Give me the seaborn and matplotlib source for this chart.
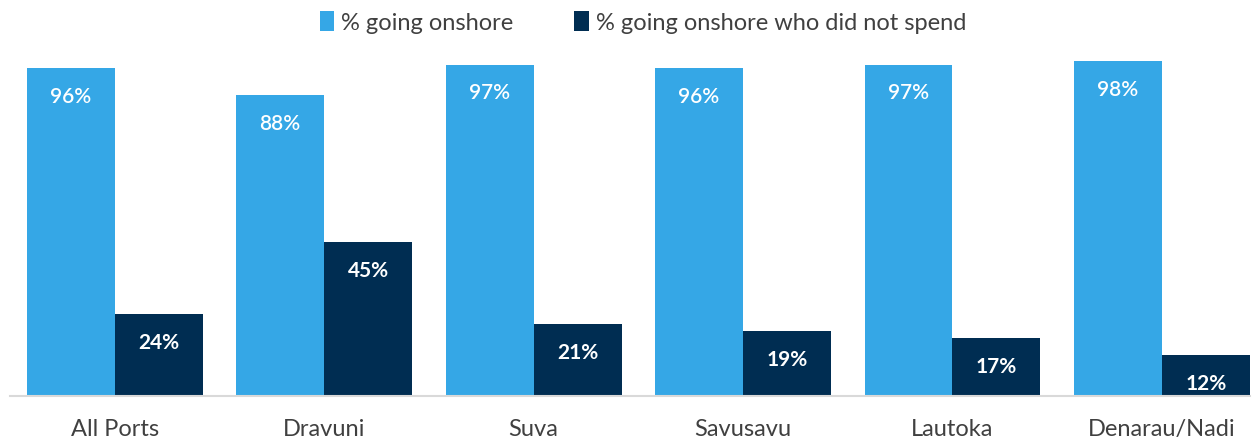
import numpy as np
import pandas as pd
import matplotlib
matplotlib.use('Agg')
import matplotlib.pyplot as plt
import seaborn as sns

ports = ['All Ports', 'Dravuni', 'Suva', 'Savusavu', 'Lautoka', 'Denarau/Nadi']
onshore = [96, 88, 97, 96, 97, 98]
no_spend = [24, 45, 21, 19, 17, 12]
series = ['% going onshore', '% going onshore who did not spend']
colors = ['#35A7E6', '#002D52']

df = pd.DataFrame({
    'port': ports * 2,
    'value': onshore + no_spend,
    'series': [series[0]] * len(ports) + [series[1]] * len(ports),
})

sns.set_style('white')
plt.rcParams['font.family'] = ['Lato', 'DejaVu Sans']

fig = plt.figure(figsize=(12.53, 4.39), dpi=100)
ax = fig.add_axes([0.008, 0.0957, 0.9895, 0.778])

sns.barplot(data=df, x='port', y='value', hue='series', palette=colors,
            width=0.84, gap=0, saturation=1, dodge=True, linewidth=0,
            ax=ax, legend=True)

# value labels inside the bars
weights = ['semibold', 'bold']
for cont, w in zip(ax.containers, weights):
    for p in cont:
        ax.annotate(f'{p.get_height():.0f}%',
                    (p.get_x() + p.get_width() / 2., p.get_height()),
                    ha='center', va='center', xytext=(0, -20),
                    textcoords='offset points', color='white',
                    fontsize=15, fontweight=w)

ax.set_ylim(0, 100)
ax.set_xlim(-0.5, 5.42)
ax.set_yticks([])
ax.set_xlabel('')
ax.set_ylabel('')
ax.tick_params(axis='x', length=0, labelsize=17, labelcolor='#404040', pad=16)
for s in ['top', 'right', 'left']:
    ax.spines[s].set_visible(False)
ax.spines['bottom'].set_color('#D9D9D9')
ax.spines['bottom'].set_linewidth(1.5)

handles, labels = ax.get_legend_handles_labels()
ax.get_legend().remove()
fig.legend(handles, labels, loc='upper center', bbox_to_anchor=(0.513, 1.02),
           ncol=2, frameon=False, fontsize=17, handlelength=0.6,
           handleheight=0.9, handletextpad=0.3, columnspacing=2.6,
           labelcolor='#404040')

fig.savefig('out.png', dpi=100)
